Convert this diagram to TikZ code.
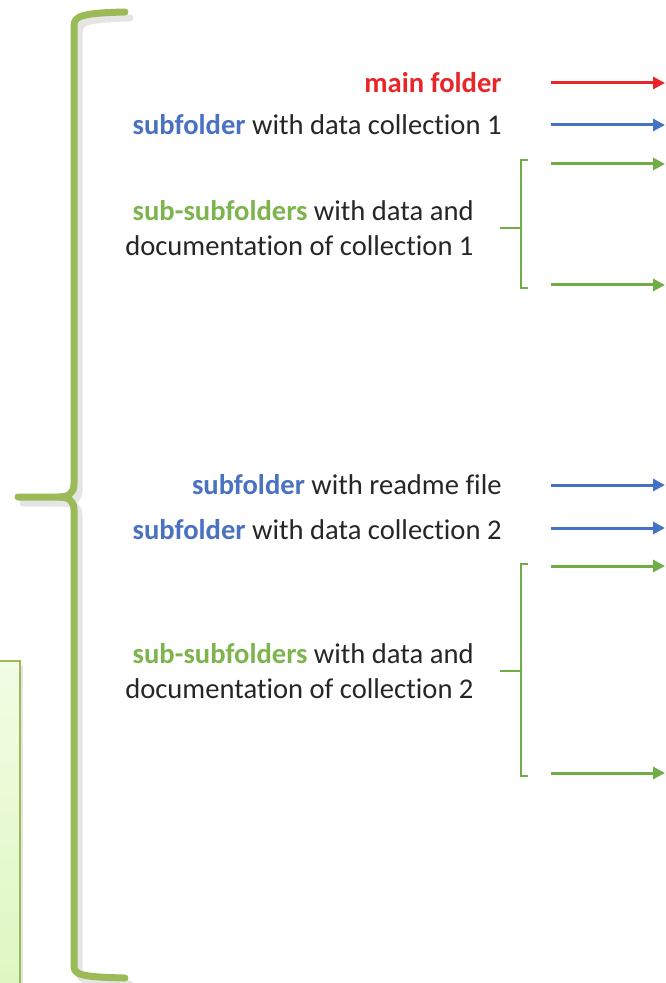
\documentclass[tikz,border=0pt]{standalone}
\usepackage{fontspec}
\setmainfont[Ligatures=NoCommon]{Carlito}
\usetikzlibrary{arrows.meta}

\definecolor{bracegreen}{HTML}{9BBB59}
\definecolor{arrred}{HTML}{E8262A}
\definecolor{arrblue}{HTML}{4472C4}
\definecolor{arrgreen}{HTML}{70AD47}
\definecolor{txtblue}{HTML}{4A72C0}
\definecolor{txtgreen}{HTML}{7DB44D}
\definecolor{txtgray}{HTML}{262626}
\definecolor{boxtop}{HTML}{F2FDE4}
\definecolor{boxbot}{HTML}{DDF7C0}

\tikzset{
  foldertext/.style={anchor=east, inner sep=0pt, align=right, text=txtgray,
    font=\fontsize{14.3}{17.8}\selectfont},
  redarrow/.style={draw=arrred, line width=1.5pt, -{Triangle[length=6pt,width=6pt]}},
  bluearrow/.style={draw=arrblue, line width=1.5pt, -{Triangle[length=6pt,width=6pt]}},
  greenarrow/.style={draw=arrgreen, line width=1.5pt, -{Triangle[length=6pt,width=6pt]}},
  bracketline/.style={draw=arrgreen, line width=0.9pt},
  bigbrace/.style={draw=bracegreen, line width=3.5pt, line cap=round, line join=round},
}

\begin{document}
\begin{tikzpicture}[x=0.5pt,y=-0.5pt]
\useasboundingbox (0,0) rectangle (665,983);

% light box at the left edge
\fill[gray!20] (-5,665) rectangle (23,995);
\shade[top color=boxtop, bottom color=boxbot] (-5,661) rectangle (20,995);
\draw[bracegreen, line width=0.8pt] (-5,661) -- (20,661) -- (20,995);

% big curly brace
\begin{scope}[xshift=2.5,yshift=-3]
\draw[bigbrace, draw=gray!20] (125,12) .. controls (82,13) and (74,16) .. (74,26) -- (74,484)
  .. controls (74,493) and (69,497) .. (59,497) -- (18,497);
\draw[bigbrace, draw=gray!20] (59,497) .. controls (69,497) and (74,501) .. (74,510) -- (74,966)
  .. controls (74,975) and (82,977) .. (125,978);
\end{scope}
\draw[bigbrace] (125,12) .. controls (82,13) and (74,16) .. (74,26) -- (74,484)
  .. controls (74,493) and (69,497) .. (59,497) -- (18,497);
\draw[bigbrace] (59,497) .. controls (69,497) and (74,501) .. (74,510) -- (74,966)
  .. controls (74,975) and (82,977) .. (125,978);

% collection 1
\node[foldertext] (main) at (502,83) {\textcolor{arrred}{\bfseries main folder}};
\node[foldertext] (sub1) at (502,125) {\textcolor{txtblue}{\bfseries subfolder} with data collection 1};
\node[foldertext] (subsub1) at (474,228) {\textcolor{txtgreen}{\bfseries sub-subfolders} with data and\\documentation of collection 1};

\coordinate (m0) at (551,83);   \coordinate (m1) at (665,83);
\coordinate (s0) at (551,125);  \coordinate (s1) at (665,125);
\coordinate (g0) at (551,164);  \coordinate (g1) at (665,164);
\coordinate (h0) at (551,285);  \coordinate (h1) at (665,285);
\draw[redarrow] (m0) -- (m1);
\draw[bluearrow] (s0) -- (s1);
\draw[greenarrow] (g0) -- (g1);
\draw[greenarrow] (h0) -- (h1);
\draw[bracketline] (528,160) -- (521,160) -- (521,288) -- (528,288);
\draw[bracketline] (521,228) -- (500,228);

% collection 2
\node[foldertext] (readme) at (502,485) {\textcolor{txtblue}{\bfseries subfolder} with readme file};
\node[foldertext] (sub2) at (502,530) {\textcolor{txtblue}{\bfseries subfolder} with data collection 2};
\node[foldertext] (subsub2) at (474,671) {\textcolor{txtgreen}{\bfseries sub-subfolders} with data and\\documentation of collection 2};

\coordinate (r0) at (551,485);  \coordinate (r1) at (665,485);
\coordinate (t0) at (551,528);  \coordinate (t1) at (665,528);
\coordinate (k0) at (551,566);  \coordinate (k1) at (665,566);
\coordinate (l0) at (551,773);  \coordinate (l1) at (665,773);
\draw[bluearrow] (r0) -- (r1);
\draw[bluearrow] (t0) -- (t1);
\draw[greenarrow] (k0) -- (k1);
\draw[greenarrow] (l0) -- (l1);
\draw[bracketline] (528,564) -- (521,564) -- (521,776) -- (528,776);
\draw[bracketline] (521,671) -- (500,671);
\end{tikzpicture}
\end{document}
